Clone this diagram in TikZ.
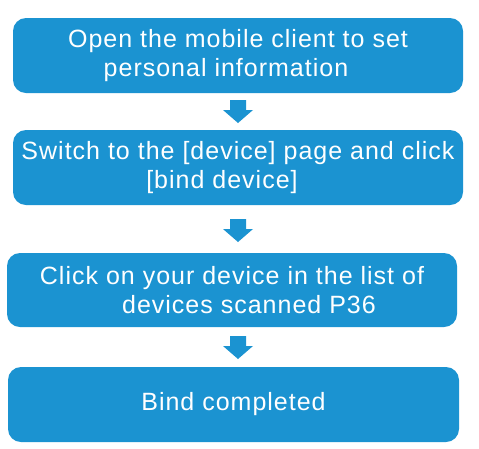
\documentclass[tikz,border=0pt]{standalone}
\usepackage{fontspec}
\setmainfont{Liberation Sans}[LetterSpace=4]
\definecolor{flowblue}{RGB}{27,147,209}
\begin{document}
\begin{tikzpicture}[x=1pt,y=1pt,
  stepbox/.style={fill=flowblue, rounded corners=13pt, draw=none},
  steptext/.style={text=white, align=center, font=\fontsize{25}{29}\selectfont, inner sep=0pt},
  fatarrow/.pic={\fill[flowblue] (-8,11.5) -- (8,11.5) -- (8,1.5) -- (15,1.5) -- (0,-11.5) -- (-15,1.5) -- (-8,1.5) -- cycle;}]
\useasboundingbox (0,0) rectangle (479,-448);
\fill[white] (0,0) rectangle (479,-448);
\path[stepbox] (13,-18) rectangle (463,-93) coordinate[pos=.5] (c1);
\path[stepbox] (13,-130) rectangle (463,-205) coordinate[pos=.5] (c2);
\path[stepbox] (7,-253) rectangle (457,-327) coordinate[pos=.5] (c3);
\path[stepbox] (8,-367) rectangle (459,-442) coordinate[pos=.5] (c4);
\node[steptext] (t1) at (c1) {Open the mobile client to set\\personal information\hspace*{24pt}};
\node[steptext] (t2) at (c2) {Switch to the [device] page and click\\{[bind device]}\hspace*{32pt}};
\node[steptext] (t3) at (c3) {Click on your device in the list of\\\hspace*{34pt}devices scanned P36};
\node[steptext] (t4) at (c4) {Bind completed};
\coordinate (a1) at (238,-111.5);
\coordinate (a2) at (238,-230.5);
\coordinate (a3) at (238,-347.5);
\pic at (a1) {fatarrow};
\pic at (a2) {fatarrow};
\pic at (a3) {fatarrow};
\end{tikzpicture}
\end{document}
